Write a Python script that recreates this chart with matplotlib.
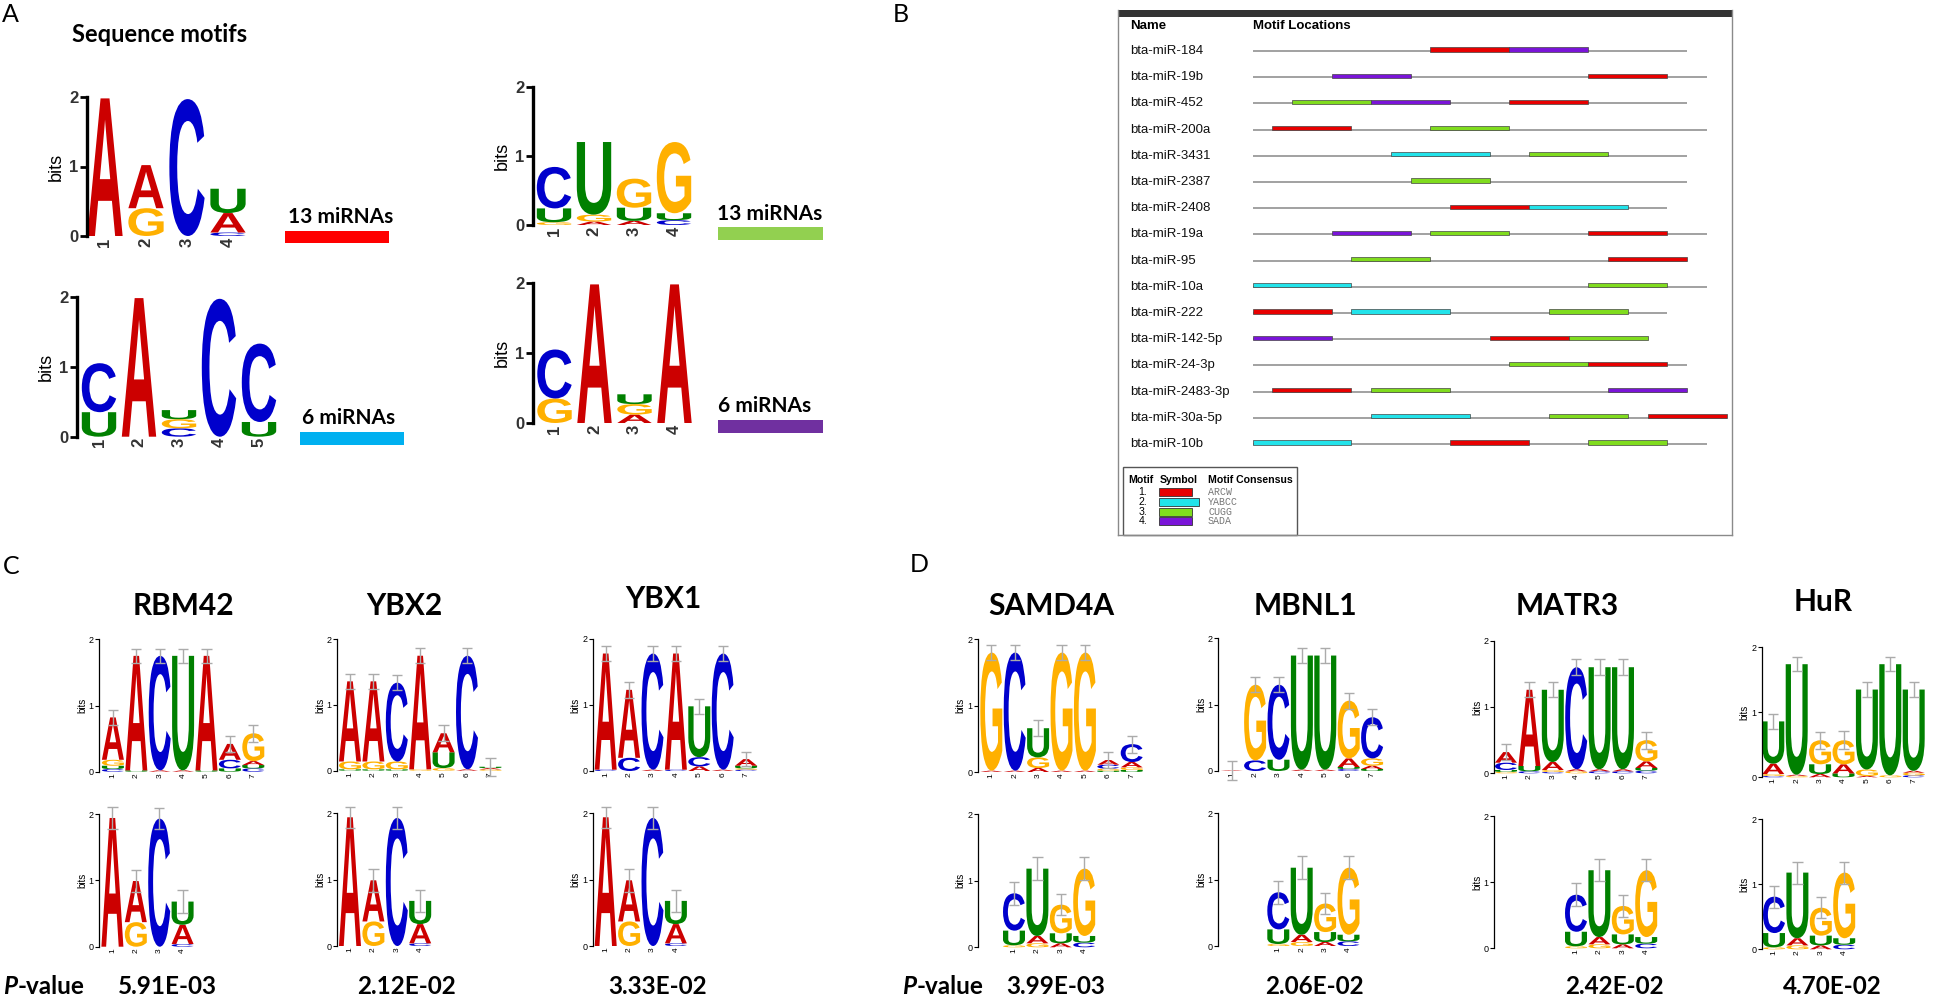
import matplotlib
matplotlib.use('Agg')
import matplotlib.pyplot as plt
from matplotlib.textpath import TextPath
from matplotlib.font_manager import FontProperties
from matplotlib.patches import PathPatch, Rectangle
from matplotlib.transforms import Affine2D

plt.rcParams['font.family'] = ['Liberation Sans', 'DejaVu Sans']

# ---------------- DATA ----------------
# Panel A: discovered sequence motifs (letter, bits) stacked bottom -> top
A1_STACKS = [[('A', 1.98)], [('G', 0.40), ('A', 0.62)], [('C', 1.97)],
             [('C', 0.05), ('A', 0.28), ('U', 0.35)]]
A2_STACKS = [[('G', 0.04), ('U', 0.20), ('C', 0.60)], [('A', 0.05), ('G', 0.10), ('U', 1.05)],
             [('A', 0.06), ('U', 0.19), ('G', 0.42)], [('C', 0.07), ('U', 0.10), ('G', 1.03)]]
A3_STACKS = [[('U', 0.35), ('C', 0.70)], [('A', 1.98)], [('C', 0.12), ('G', 0.13), ('U', 0.13)],
             [('C', 1.97)], [('U', 0.21), ('C', 1.12)]]
A4_STACKS = [[('G', 0.35), ('C', 0.70)], [('A', 1.98)], [('A', 0.12), ('G', 0.15), ('U', 0.14)],
             [('A', 1.98)]]
A_LABELS = ['13 miRNAs', '13 miRNAs', '6 miRNAs', '6 miRNAs']
A_BAR_COLORS = ['#ff0000', '#92d050', '#00b0f0', '#7030a0']

# Panel B: motif locations
MIRNAS = ['bta-miR-184', 'bta-miR-19b', 'bta-miR-452', 'bta-miR-200a', 'bta-miR-3431',
          'bta-miR-2387', 'bta-miR-2408', 'bta-miR-19a', 'bta-miR-95', 'bta-miR-10a',
          'bta-miR-222', 'bta-miR-142-5p', 'bta-miR-24-3p', 'bta-miR-2483-3p',
          'bta-miR-30a-5p', 'bta-miR-10b']
MIRNA_LEN = [22, 23, 22, 23, 22, 22, 21, 23, 22, 23, 21, 20, 22, 22, 24, 23]
# (motif id, start position) per miRNA
MOTIF_SITES = [
    [(1, 9), (4, 13)],
    [(4, 4), (1, 17)],
    [(3, 2), (4, 6), (1, 13)],
    [(1, 1), (3, 9)],
    [(2, 7), (3, 14)],
    [(3, 8)],
    [(1, 10), (2, 14)],
    [(4, 4), (3, 9), (1, 17)],
    [(3, 5), (1, 18)],
    [(2, 0), (3, 17)],
    [(1, 0), (2, 5), (3, 15)],
    [(4, 0), (1, 12), (3, 16)],
    [(3, 13), (1, 17)],
    [(1, 1), (3, 6), (4, 18)],
    [(2, 6), (3, 15), (1, 20)],
    [(2, 0), (1, 10), (3, 17)],
]
MOTIF_IDS = [1, 2, 3, 4]
MOTIF_LEN = {1: 4, 2: 5, 3: 4, 4: 4}
MOTIF_CONSENSUS = ['ARCW', 'YABCC', 'CUGG', 'SADA']
MOTIF_COLORS = {1: '#e80000', 2: '#22e3ea', 3: '#80dc1e', 4: '#7a14d8'}

# Panel C: RBP motifs (top) vs. AACU motif (bottom)
C_PROTEINS = ['RBM42', 'YBX2', 'YBX1']
C_PVALUES = ['5.91E-03', '2.12E-02', '3.33E-02']
RBM42_STACKS = [[('C', 0.04), ('U', 0.05), ('G', 0.09), ('A', 0.64)], [('U', 0.02), ('A', 1.73)],
                [('A', 0.02), ('C', 1.73)], [('A', 0.02), ('U', 1.73)], [('U', 0.02), ('A', 1.73)],
                [('U', 0.05), ('C', 0.13), ('A', 0.24)], [('C', 0.05), ('U', 0.05), ('A', 0.06), ('G', 0.42)]]
RBM42_ERR = [0.11, 0.11, 0.11, 0.11, 0.11, 0.12, 0.13]
YBX2_STACKS = [[('U', 0.02), ('G', 0.12), ('A', 1.22)], [('U', 0.02), ('G', 0.12), ('A', 1.22)],
               [('U', 0.02), ('G', 0.12), ('C', 1.20)], [('G', 0.02), ('A', 1.73)],
               [('G', 0.04), ('U', 0.24), ('A', 0.29)], [('A', 0.02), ('C', 1.73)],
               [('G', 0.02), ('A', 0.02), ('U', 0.02)]]
YBX2_ERR = [0.11, 0.11, 0.11, 0.11, 0.12, 0.11, 0.14]
YBX1_STACKS = [[('C', 0.02), ('A', 1.76)], [('C', 0.20), ('A', 1.03)], [('A', 0.02), ('C', 1.76)],
               [('C', 0.02), ('A', 1.76)], [('A', 0.07), ('C', 0.14), ('U', 0.77)],
               [('A', 0.02), ('C', 1.76)], [('C', 0.02), ('G', 0.02), ('U', 0.04), ('A', 0.10)]]
YBX1_ERR = [0.11, 0.12, 0.11, 0.11, 0.11, 0.11, 0.11]
AACU_STACKS = [[('A', 1.94)], [('G', 0.37), ('A', 0.62)], [('C', 1.93)],
               [('C', 0.04), ('A', 0.29), ('U', 0.35)]]
AACU_ERR = [0.16, 0.17, 0.16, 0.17]

# Panel D: RBP motifs (top) vs. CUGG motif (bottom)
D_PROTEINS = ['SAMD4A', 'MBNL1', 'MATR3', 'HuR']
D_PVALUES = ['3.99E-03', '2.06E-02', '2.42E-02', '4.70E-02']
SAMD4A_STACKS = [[('A', 0.02), ('G', 1.78)], [('A', 0.02), ('C', 1.78)],
                 [('A', 0.06), ('G', 0.16), ('U', 0.44)], [('A', 0.02), ('G', 1.78)],
                 [('A', 0.02), ('G', 1.78)], [('U', 0.02), ('G', 0.03), ('C', 0.06), ('A', 0.07)],
                 [('U', 0.03), ('G', 0.04), ('A', 0.08), ('C', 0.27)]]
SAMD4A_ERR = [0.11, 0.11, 0.12, 0.11, 0.11, 0.12, 0.13]
MBNL1_STACKS = [[('A', 0.01)], [('C', 0.16), ('G', 1.14)], [('U', 0.17), ('C', 1.13)],
                [('A', 0.02), ('U', 1.72)], [('A', 0.02), ('U', 1.72)],
                [('C', 0.03), ('U', 0.03), ('A', 0.13), ('G', 0.87)],
                [('U', 0.03), ('A', 0.05), ('G', 0.11), ('C', 0.62)]]
MBNL1_ERR = [0.14, 0.11, 0.11, 0.11, 0.11, 0.12, 0.12]
MATR3_STACKS = [[('G', 0.02), ('U', 0.03), ('C', 0.11), ('A', 0.16)],
                [('C', 0.03), ('U', 0.08), ('A', 1.15)],
                [('C', 0.02), ('G', 0.03), ('A', 0.12), ('U', 1.09)],
                [('G', 0.03), ('A', 0.03), ('C', 1.54)], [('C', 0.03), ('A', 0.03), ('U', 1.54)],
                [('C', 0.03), ('A', 0.03), ('U', 1.54)],
                [('C', 0.04), ('U', 0.04), ('A', 0.10), ('G', 0.32)]]
MATR3_ERR = [0.12, 0.11, 0.11, 0.12, 0.12, 0.12, 0.13]
HUR_STACKS = [[('C', 0.02), ('G', 0.03), ('A', 0.16), ('U', 0.65)],
              [('G', 0.02), ('A', 0.02), ('U', 1.70)], [('A', 0.05), ('U', 0.15), ('G', 0.37)],
              [('U', 0.06), ('A', 0.14), ('G', 0.37)], [('A', 0.02), ('G', 0.10), ('U', 1.23)],
              [('G', 0.03), ('U', 1.71)], [('C', 0.03), ('G', 0.04), ('A', 0.03), ('U', 1.25)]]
HUR_ERR = [0.11, 0.11, 0.13, 0.14, 0.11, 0.11, 0.11]
CUGG_STACKS = [[('G', 0.03), ('U', 0.22), ('C', 0.56)], [('G', 0.06), ('A', 0.11), ('U', 1.01)],
               [('A', 0.06), ('U', 0.15), ('G', 0.43)], [('C', 0.07), ('U', 0.10), ('G', 1.01)]]
CUGG_ERR = [0.17, 0.17, 0.16, 0.17]

NUC_COLORS = {'A': '#cc0000', 'C': '#0000cc', 'G': '#ffb000', 'U': '#008000'}

# ---------------- FIGURE ----------------
W, H = 1944, 999
fig = plt.figure(figsize=(W / 100, H / 100), dpi=100)


def rect_px(x0, y0, x1, y1):
    return [x0 / W, 1 - y1 / H, (x1 - x0) / W, (y1 - y0) / H]


ov = fig.add_axes([0, 0, 1, 1])
ov.set_xlim(0, W)
ov.set_ylim(H, 0)
ov.axis('off')

LATO = 'Lato'
GLYPH_FP = FontProperties(family='Liberation Sans', weight='bold')
_glyphs = {}


def glyph(letter):
    if letter not in _glyphs:
        p = TextPath((0, 0), letter, size=1, prop=GLYPH_FP)
        _glyphs[letter] = (p, p.get_extents())
    return _glyphs[letter]


def draw_letter(ax, letter, xc, y, w, h, color):
    p, ext = glyph(letter)
    tr = (Affine2D().translate(-ext.x0, -ext.y0)
          .scale(w / ext.width, h / ext.height).translate(xc - w / 2, y))
    ax.add_patch(PathPatch(tr.transform_path(p), fc=color, ec='none', lw=0,
                           clip_on=False, zorder=2))


def make_logo(stacks, spine_x, y0, y2, c1, colw, errs=None, big=False, fill=0.94):
    n = len(stacks)
    right = c1 + (n - 0.5) * colw + 2
    ax = fig.add_axes(rect_px(spine_x, y2, right, y0))
    ax.patch.set_alpha(0)
    ax.set_xlim(1 + (spine_x - c1) / colw, 1 + (right - c1) / colw)
    ax.set_ylim(0, 2)
    for i, st in enumerate(stacks):
        x = i + 1
        y = 0.0
        for letter, h in st:
            draw_letter(ax, letter, x, y, fill, h, NUC_COLORS[letter])
            y += h
        if errs is not None:
            e = errs[i]
            kw = dict(color='#ababab', lw=1.0, zorder=4, clip_on=False, solid_capstyle='butt')
            ax.plot([x, x], [y - e, y + e], **kw)
            ax.plot([x - 0.22, x + 0.22], [y + e, y + e], **kw)
            ax.plot([x - 0.22, x + 0.22], [y - e, y - e], **kw)
    for s in ['top', 'right', 'bottom']:
        ax.spines[s].set_visible(False)
    ax.spines['left'].set_bounds(0, 2)
    ax.set_yticks([0, 1, 2])
    ax.set_xticks(range(1, n + 1))
    ax.set_xticklabels([str(i) for i in range(1, n + 1)], rotation=90)
    if big:
        ax.spines['left'].set_linewidth(2.4)
        ax.tick_params(axis='y', length=5, width=2, labelsize=12, pad=1, labelcolor='#333333')
        ax.tick_params(axis='x', length=0, labelsize=12, pad=1, labelcolor='#333333')
        for lab in ax.get_yticklabels() + ax.get_xticklabels():
            lab.set_fontweight('bold')
        ax.set_ylabel('bits', fontsize=13, labelpad=3)
    else:
        ax.spines['left'].set_linewidth(0.9)
        ax.tick_params(axis='y', length=3, width=0.8, labelsize=6.5, pad=1)
        ax.tick_params(axis='x', length=0, labelsize=6, pad=1)
        ax.set_ylabel('bits', fontsize=7, labelpad=1)
    return ax


# ---- panel letters
for lab, (x, y) in zip('ABCD', [(2, 14), (893, 15), (3, 566), (910, 565)]):
    ov.text(x, y, lab, fontsize=18, family=LATO, ha='left', va='center')

# ---- Panel A
ov.text(72, 34, 'Sequence motifs', fontsize=17, family=LATO, fontweight='bold',
        ha='left', va='center')
A_LAYOUT = [  # spine_x, y0, y2, c1, colw, text(x,y), bar(x0,y0,x1,y1)
    (87, 236, 97, 105, 41, (288, 217), (285, 231, 389, 243)),
    (533, 225, 86.7, 554, 40, (717, 214), (718, 227, 823, 240)),
    (77, 436.7, 296.7, 99, 40, (302, 418), (300, 432, 404, 445)),
    (533, 423, 283, 554.5, 40, (718, 406), (718, 420, 823, 433)),
]
for stacks, lay, lab, col in zip([A1_STACKS, A2_STACKS, A3_STACKS, A4_STACKS],
                                 A_LAYOUT, A_LABELS, A_BAR_COLORS):
    sx, y0, y2, c1, cw, tpos, bar = lay
    make_logo(stacks, sx, y0, y2, c1, cw, big=True, fill=0.86)
    ov.text(tpos[0], tpos[1], lab, fontsize=15, family=LATO, fontweight='bold',
            ha='left', va='center')
    ov.add_patch(Rectangle((bar[0], bar[1]), bar[2] - bar[0], bar[3] - bar[1],
                           fc=col, ec='none'))

# ---- Panel B
NT0, NTW, ROW0, ROWH = 1252.7, 19.75, 51.0, 26.2
bx0, by0, bx1, by1 = 1118, 10, 1732, 535
axB = fig.add_axes(rect_px(bx0, by0, bx1, by1))
axB.patch.set_alpha(0)
axB.set_xlim((bx0 - NT0) / NTW, (bx1 - NT0) / NTW)
axB.set_ylim((by1 - ROW0) / ROWH, (by0 - ROW0) / ROWH)
axB.set_xticks([])
axB.set_yticks([])
for s in axB.spines.values():
    s.set_color('#8a8a8a')
    s.set_linewidth(1.0)
axB.spines['top'].set_visible(False)
axB.add_patch(Rectangle((0, 1 - 7 / (by1 - by0)), 1, 7 / (by1 - by0), transform=axB.transAxes,
                        fc='#333333', ec='none', clip_on=False))
name_x = (1130 - NT0) / NTW
axB.text(name_x, (26 - ROW0) / ROWH, 'Name', fontsize=9.5, fontweight='bold',
         ha='left', va='center')
axB.text(0, (26 - ROW0) / ROWH, 'Motif Locations', fontsize=9.5, fontweight='bold',
         ha='left', va='center')
bar_h = 4.2 / ROWH
for i, (name, L, sites) in enumerate(zip(MIRNAS, MIRNA_LEN, MOTIF_SITES)):
    axB.text(name_x, i, name, fontsize=9.5, ha='left', va='center', color='#111111')
    axB.plot([0, L], [i, i], color='#9a9a9a', lw=1.3, zorder=1, solid_capstyle='butt')
    for mid, start in sites:
        axB.add_patch(Rectangle((start, i - 3.6 / ROWH), MOTIF_LEN[mid], bar_h,
                                fc=MOTIF_COLORS[mid], ec='#444444', lw=0.5, zorder=2))

# legend of panel B (pixel coordinates)
ov.add_patch(Rectangle((1123, 467), 174, 68, fc='white', ec='#555555', lw=1.0, zorder=3))
for txt, x in [('Motif', 1128), ('Symbol', 1160), ('Motif Consensus', 1208)]:
    ov.text(x, 480, txt, fontsize=7.6, fontweight='bold', ha='left', va='center', zorder=4)
leg_y = [492.3, 502.0, 511.7, 521.2]
for mid, cons, yy in zip(MOTIF_IDS, MOTIF_CONSENSUS, leg_y):
    ov.text(1147, yy, f'{mid}.', fontsize=7.6, ha='right', va='center', zorder=4)
    wbox = 40 if MOTIF_LEN[mid] == 5 else 33
    ov.add_patch(Rectangle((1159, yy - 3.9), wbox, 7.8, fc=MOTIF_COLORS[mid],
                           ec='#333333', lw=0.6, zorder=4))
    ov.text(1208, yy, cons, fontsize=7.2, family='Liberation Mono', color='#777777',
            ha='left', va='center', zorder=4)

# ---- Panels C and D
COLW = 23.4
C_TOP = [(99.3, 771.7, 639.3, 112.9), (337.3, 770.7, 639.3, 350.0), (592.7, 771.0, 639.0, 605.7)]
C_BOT = [(99.3, 946.7, 814.0, 112.4), (337.3, 946.0, 813.3, 350.0), (592.7, 946.0, 813.3, 605.7)]
C_TITLE = [(183, 606), (404, 606), (663, 599)]
C_PX = [167.7, 406, 657.5]
for stacks, errs, top, bot, tt, prot, pv, px in zip(
        [RBM42_STACKS, YBX2_STACKS, YBX1_STACKS], [RBM42_ERR, YBX2_ERR, YBX1_ERR],
        C_TOP, C_BOT, C_TITLE, C_PROTEINS, C_PVALUES, C_PX):
    make_logo(stacks, top[0], top[1], top[2], top[3], COLW, errs=errs)
    make_logo(AACU_STACKS, bot[0], bot[1], bot[2], bot[3], COLW, errs=AACU_ERR)
    ov.text(tt[0], tt[1], prot, fontsize=21.5, family=LATO, fontweight='bold',
            ha='center', va='center')
    ov.text(px, 987, pv, fontsize=17.5, family=LATO, fontweight='bold', ha='center', va='center')

D_TOP = [(977.7, 772.0, 639.3, 991.3), (1218.3, 771.0, 638.3, 1231.7),
         (1494.3, 773.3, 640.7, 1506.0), (1761.7, 777.3, 647.3, 1773.3)]
D_BOT = [(977.7, 947.3, 814.0, 1014.0), (1218.3, 946.0, 813.3, 1278.3),
         (1494.3, 948.3, 816.0, 1576.0), (1761.7, 949.3, 819.3, 1774.0)]
D_TITLE = [(1051, 606), (1305, 606), (1567, 606), (1823, 602)]
D_PX = [1056, 1314.5, 1614, 1832.5]
for stacks, errs, top, bot, tt, prot, pv, px in zip(
        [SAMD4A_STACKS, MBNL1_STACKS, MATR3_STACKS, HUR_STACKS],
        [SAMD4A_ERR, MBNL1_ERR, MATR3_ERR, HUR_ERR],
        D_TOP, D_BOT, D_TITLE, D_PROTEINS, D_PVALUES, D_PX):
    make_logo(stacks, top[0], top[1], top[2], top[3], COLW, errs=errs)
    make_logo(CUGG_STACKS, bot[0], bot[1], bot[2], bot[3], COLW, errs=CUGG_ERR)
    ov.text(tt[0], tt[1], prot, fontsize=21.5, family=LATO, fontweight='bold',
            ha='center', va='center')
    ov.text(px, 987, pv, fontsize=17.5, family=LATO, fontweight='bold', ha='center', va='center')

# "P-value" labels
renderer = fig.canvas.get_renderer()
for x0 in [3, 902]:
    tP = ov.text(x0, 987, 'P', fontsize=17.5, family=LATO, fontweight='bold', style='italic',
                 ha='left', va='center')
    bb = tP.get_window_extent(renderer)
    ov.text(bb.x1, 987, '-value', fontsize=17.5, family=LATO, fontweight='bold',
            ha='left', va='center')

fig.savefig('out.png', dpi=100)
